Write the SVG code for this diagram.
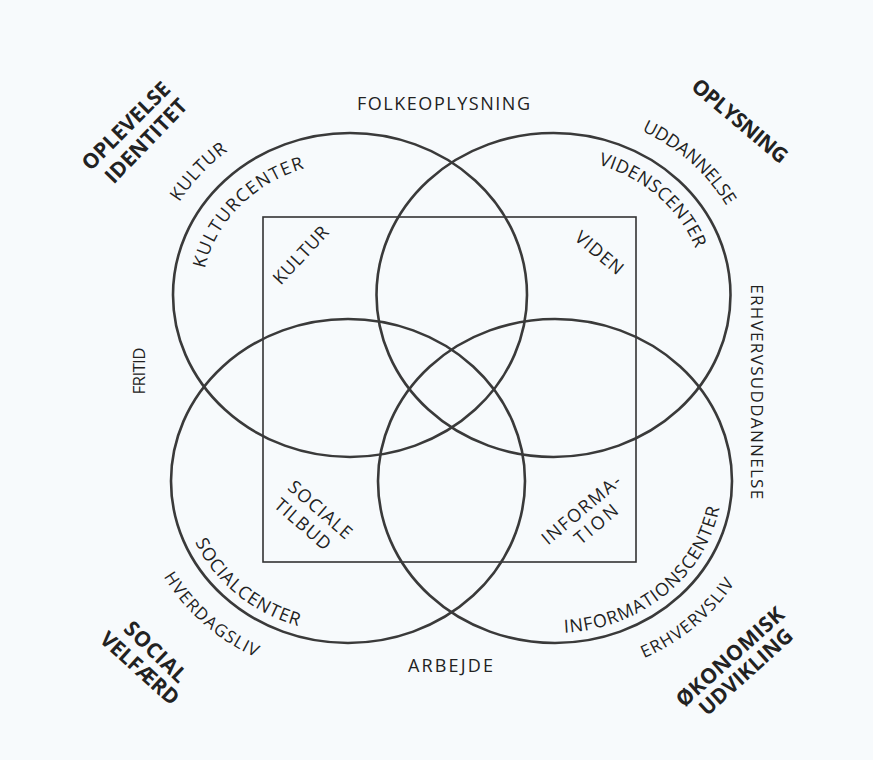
<svg xmlns="http://www.w3.org/2000/svg" width="873" height="760" viewBox="0 0 873 760">
<style>
.c{fill:none;stroke:#3a3a3a;stroke-width:2.6}
.r{fill:none;stroke:#333;stroke-width:1.6}
.t{font-family:"Open Sans","Liberation Sans",sans-serif;font-size:18px;fill:#222}
.s{font-size:17px}
.b{font-family:"Open Sans","Liberation Sans",sans-serif;font-size:21px;font-weight:bold;fill:#222}
</style>
<defs>
<path id="pKC" d="M202.4,304.3 A148,133 0 0 1 339.7,162.3"/>
<path id="pKU" d="M155.4,261.0 A198,183 0 0 1 284.6,122.3"/>
<path id="pUD" d="M601.4,117.0 A198.5,183.5 0 0 1 743.9,244.7"/>
<path id="pVC" d="M552.1,158.5 A151.5,136.5 0 0 1 704.5,294.2"/>
<path id="pIC" d="M504.8,626.0 A167,152 0 0 0 718.0,448.1"/>
<path id="pEL" d="M599.1,672.2 A210.5,195.5 0 0 0 755.3,541.1"/>
<path id="pSC" d="M181.1,487.1 A167,152 0 0 0 354.7,632.9"/>
<path id="pHL" d="M145.4,535.8 A211,196 0 0 0 297.8,671.4"/>
</defs>
<rect x="0" y="0" width="873" height="760" fill="#f7fafc"/>
<g id="square">
<rect class="r" x="263" y="217" width="373" height="345"/>
</g>
<g id="circle-kultur">
<ellipse class="c" cx="350" cy="295" rx="177" ry="162"/>
<text class="b" text-anchor="middle" transform="translate(131.1,131.1) rotate(-45)" textLength="115">OPLEVELSE</text>
<text class="b" text-anchor="middle" transform="translate(151.3,145.9) rotate(-46)" textLength="108">IDENTITET</text>
<text class="t"><textPath href="#pKU" startOffset="50%" text-anchor="middle" textLength="71">KULTUR</textPath></text>
<text class="t"><textPath href="#pKC" startOffset="50%" text-anchor="middle" textLength="148">KULTURCENTER</textPath></text>
<text class="t" text-anchor="middle" transform="translate(305.3,259.4) rotate(-47)" textLength="72">KULTUR</text>
</g>
<g id="circle-viden">
<ellipse class="c" cx="553.5" cy="295" rx="177" ry="162"/>
<text class="b" text-anchor="middle" transform="translate(735.2,126.5) rotate(40)" textLength="118">OPLYSNING</text>
<text class="t"><textPath href="#pUD" startOffset="50%" text-anchor="middle" textLength="115">UDDANNELSE</textPath></text>
<text class="t"><textPath href="#pVC" startOffset="50%" text-anchor="middle" textLength="133">VIDENSCENTER</textPath></text>
<text class="t" text-anchor="middle" transform="translate(595.3,257.5) rotate(40)" textLength="57">VIDEN</text>
</g>
<g id="circle-social">
<ellipse class="c" cx="348" cy="481" rx="177" ry="162"/>
<text class="b" text-anchor="middle" transform="translate(150.6,657.1) rotate(44)" textLength="78">SOCIAL</text>
<text class="b" text-anchor="middle" transform="translate(134.8,673.7) rotate(42)" textLength="98">VELFÆRD</text>
<text class="t s"><textPath href="#pHL" startOffset="50%" text-anchor="middle" textLength="124">HVERDAGSLIV</textPath></text>
<text class="t"><textPath href="#pSC" startOffset="50%" text-anchor="middle" textLength="137">SOCIALCENTER</textPath></text>
<text class="t" text-anchor="middle" transform="translate(316.2,514.4) rotate(41)" textLength="78">SOCIALE</text>
<text class="t" text-anchor="middle" transform="translate(298.7,528.9) rotate(41)" textLength="68">TILBUD</text>
</g>
<g id="circle-information">
<ellipse class="c" cx="555" cy="481" rx="177" ry="162"/>
<text class="b" text-anchor="middle" transform="translate(735,662.3) rotate(-42)" textLength="137">ØKONOMISK</text>
<text class="b" text-anchor="middle" transform="translate(750.8,677.3) rotate(-42)" textLength="118">UDVIKLING</text>
<text class="t s"><textPath href="#pEL" startOffset="50%" text-anchor="middle" textLength="119">ERHVERVSLIV</textPath></text>
<text class="t"><textPath href="#pIC" startOffset="50%" text-anchor="middle" textLength="214">INFORMATIONSCENTER</textPath></text>
<text class="t" text-anchor="middle" transform="translate(585.2,514.5) rotate(-40)" textLength="97">INFORMA-</text>
<text class="t" text-anchor="middle" transform="translate(600.2,529) rotate(-40)" textLength="51">TION</text>
</g>
<g id="side-labels">
<text class="t" text-anchor="middle" x="443.5" y="110" textLength="173">FOLKEOPLYSNING</text>
<text class="t" text-anchor="middle" x="450.5" y="672" textLength="85">ARBEJDE</text>
<text class="t s" text-anchor="middle" transform="translate(145,371) rotate(-90)" textLength="47">FRITID</text>
<text class="t s" text-anchor="middle" transform="translate(750.5,391.7) rotate(90)" textLength="215">ERHVERVSUDDANNELSE</text>
</g>
<g id="connectors"></g>
</svg>
